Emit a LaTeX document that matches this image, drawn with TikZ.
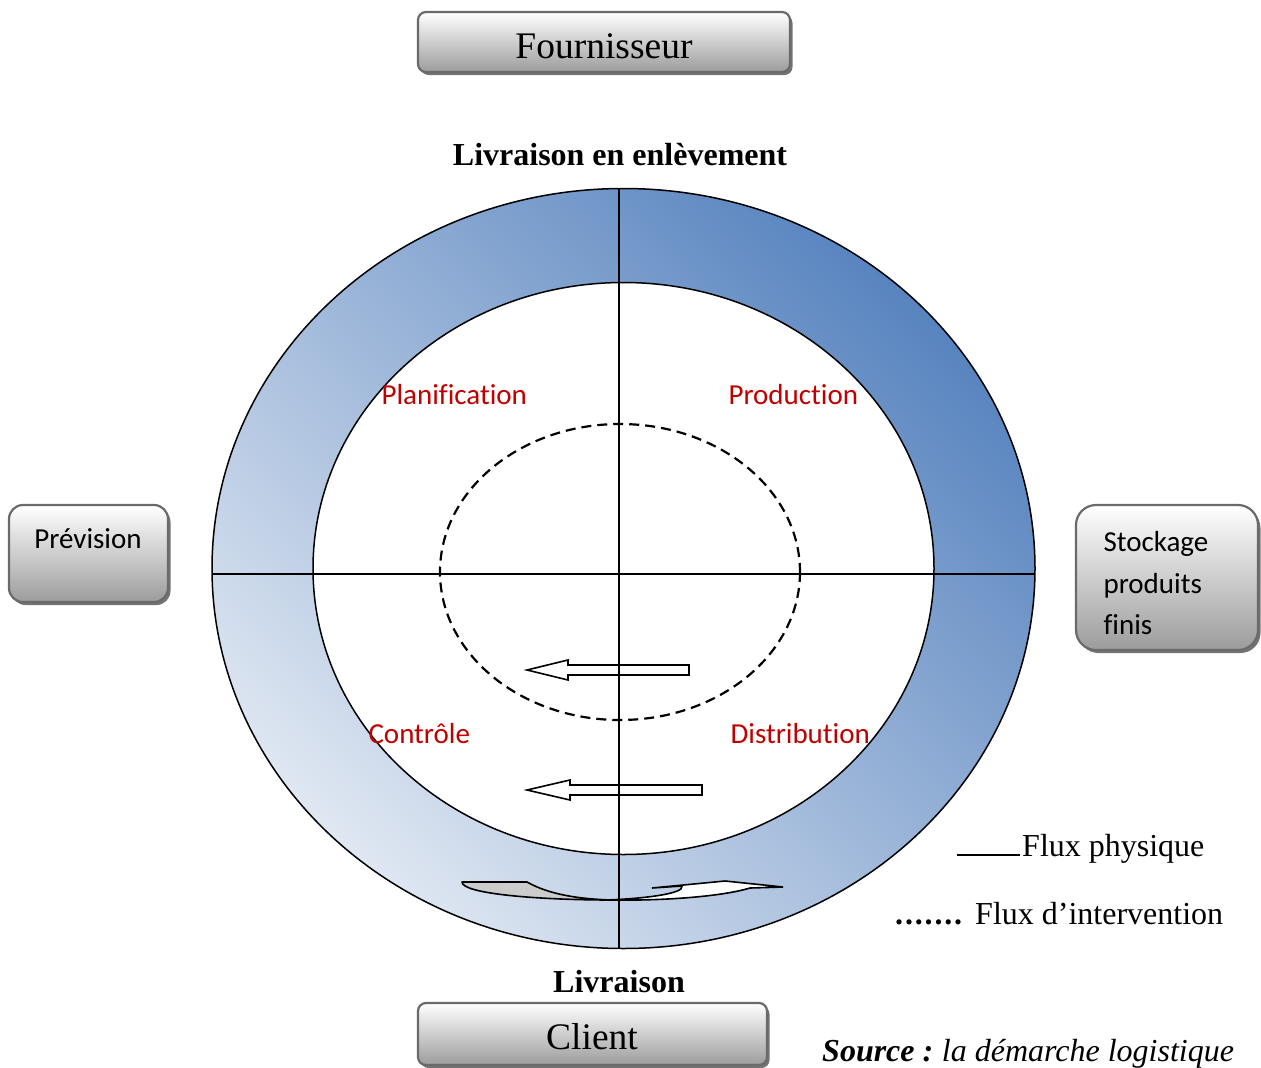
\documentclass[tikz,border=0pt]{standalone}
\usepackage{fontspec}
\setmainfont{Liberation Serif}
\newfontfamily\calibri[Ligatures=CommonOff]{Carlito}
\usetikzlibrary{shadows}

\definecolor{ringlight}{HTML}{DFE7F2}
\definecolor{ringdark}{HTML}{5884BF}
\definecolor{boxedge}{HTML}{6A6A6A}
\definecolor{boxgray}{HTML}{9C9C9C}
\definecolor{labred}{HTML}{C00000}

\tikzset{
  panel/.style={draw=boxedge, line width=2.2pt, rounded corners=#1,
    top color=white, bottom color=boxgray,
    drop shadow={shadow xshift=2.5pt, shadow yshift=-3pt, fill=black!55, opacity=1}},
  bigtxt/.style={font=\fontsize{37.5}{45}\selectfont},
  headtxt/.style={font=\fontsize{32}{38}\selectfont\bfseries},
  legtxt/.style={font=\fontsize{32}{38}\selectfont},
  sanstxt/.style={font=\calibri\fontsize{29}{41.5}\selectfont},
  phase/.style={sanstxt, text=labred},
  blockarrow/.style={draw=black, fill=white, line width=1.6pt, line join=miter},
  axisline/.style={draw=black, line width=1.8pt},
}

\begin{document}
\begin{tikzpicture}[x=1pt, y=-1pt]
\useasboundingbox (0,0) rectangle (1261,1068);

% ring: shaded outer ellipse, white inside
\coordinate (ctr) at (623.5,568.5);
\shade[shading=axis, top color=ringdark, bottom color=ringlight, shading angle=-45]
  (ctr) ellipse [x radius=411.5, y radius=380];
\draw[line width=1.5pt] (ctr) ellipse [x radius=411.5, y radius=380];
\filldraw[fill=white, line width=1.5pt] (ctr) ellipse [x radius=310.5, y radius=286];

% intervention loop
\draw[dash pattern=on 10pt off 6pt, line width=2.2pt] (620,572) ellipse [x radius=180, y radius=148];

% hollow arrows pointing left
\draw[blockarrow] (689,665) -- (568,665) -- (568,660) -- (527,670) -- (568,680) -- (568,675) -- (689,675) -- cycle;
\draw[blockarrow] (702,785) -- (570,785) -- (570,780) -- (527,790) -- (570,800) -- (570,795) -- (702,795) -- cycle;

% curved arrows along the bottom of the ring
\filldraw[fill=black!20, line width=1.6pt, line join=round]
  (462,882) -- (527,882) .. controls (550,895) and (580,899) .. (612,900)
  .. controls (540,900) and (462,894) .. cycle;
\filldraw[fill=white, line width=1.6pt, line join=miter]
  (605,900) .. controls (640,899) and (685,894) .. (682,886)
  -- (652,888) -- (725,881) -- (783,887) -- (750,888)
  .. controls (720,897) and (660,901) .. (605,900) -- cycle;

% quadrant axes
\draw[axisline] (212,574) -- (1035,574);
\draw[axisline] (619,188) -- (619,948);

% phase labels
\node[phase, anchor=west] (plan) at (378,395) {Planification};
\node[phase, anchor=west] (prod) at (725,395) {Production};
\node[phase, anchor=west] (ctrl) at (365,734) {Contrôle};
\node[phase, anchor=west] (dist) at (727,734) {Distribution};

% headings above and below the ring
\node[headtxt] (top) at (620,155) {Livraison en enlèvement};
\node[headtxt] (bot) at (619,982) {Livraison};

% boxes
\node[panel=8pt, minimum width=372pt, minimum height=60pt] (fourn) at (604,42) {};
\node[bigtxt] (fourntxt) at (604,46) {Fournisseur};
\node[panel=8pt, minimum width=349pt, minimum height=62pt] (client) at (592.5,1034) {};
\node[bigtxt] (clienttxt) at (592,1037) {Client};
\node[panel=14pt, minimum width=159pt, minimum height=97pt] (prev) at (88.5,553.5) {};
\node[sanstxt] (prevtxt) at (88,539) {Prévision};
\node[panel=20pt, minimum width=182pt, minimum height=145pt] (stock) at (1167,577.5) {};
\node[sanstxt, anchor=north west, align=left] (stocktxt) at (1100,528) {Stockage\\produits\\finis};

% legend
\coordinate (lega) at (957,855);
\coordinate (legb) at (1020,855);
\draw[line width=1.6pt] (lega) -- (legb);
\node[legtxt, anchor=base west, inner sep=0pt] (leg1) at (1022,856) {Flux physique};
\node[legtxt, anchor=base west, inner sep=0pt] (legdots) at (895,924)
  {\bfseries\makebox[67pt][s]{.\hfil.\hfil.\hfil.\hfil.\hfil.\hfil.}};
\node[legtxt, anchor=base west, inner sep=0pt] (leg2) at (975,924) {Flux d’intervention};

% source line
\node[legtxt, anchor=base west, inner sep=0pt] (src) at (822,1061) {\textbf{\textit{Source :}}\kern-2pt{} \textit{la démarche logistique}};
\end{tikzpicture}
\end{document}
